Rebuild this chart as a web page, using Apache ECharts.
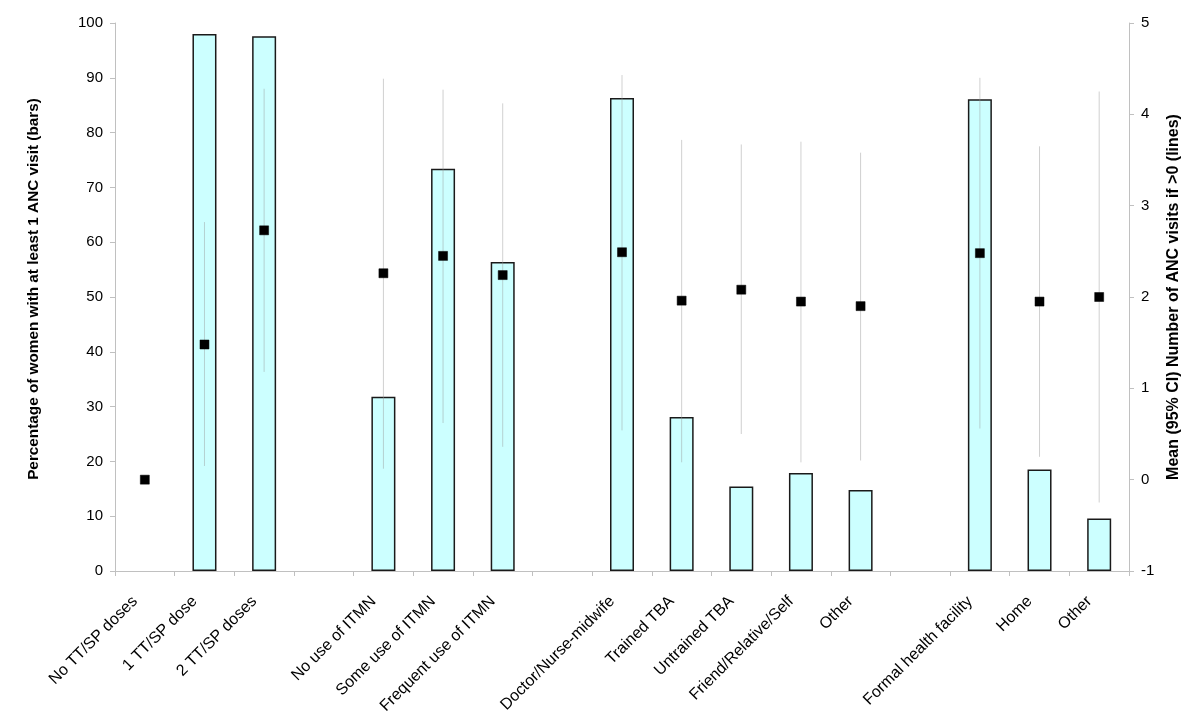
<!DOCTYPE html>
<html>
<head>
<meta charset="utf-8">
<script src="https://cdn.jsdelivr.net/npm/echarts@6/dist/echarts.min.js"></script>
<style>
html,body{margin:0;padding:0;background:#fff;}
#chart{width:1200px;height:723px;}
</style>
</head>
<body>
<div id="chart"></div>
<script>
// Categories (empty strings are spacer slots between groups)
var categories = [
  'No TT/SP doses', '1 TT/SP dose', '2 TT/SP doses', '',
  'No use of ITMN', 'Some use of ITMN', 'Frequent use of ITMN', '',
  'Doctor/Nurse-midwife', 'Trained TBA', 'Untrained TBA', 'Friend/Relative/Self', 'Other', '',
  'Formal health facility', 'Home', 'Other'
];
// Percentage of women with at least 1 ANC visit (bars, left axis)
var pctAnc = [null, 98.0, 97.6, null, 31.8, 73.4, 56.4, null, 86.3, 28.1, 15.4, 17.9, 14.8, null, 86.1, 18.5, 9.6];
// Mean number of ANC visits if >0 (markers, right axis)
var meanVisits = [0.0, 1.48, 2.73, null, 2.26, 2.45, 2.24, null, 2.49, 1.96, 2.08, 1.95, 1.90, null, 2.48, 1.95, 2.0];
// 95% CI lower / upper (lines, right axis)
var ciLow = [null, 0.15, 1.18, null, 0.12, 0.62, 0.36, null, 0.54, 0.19, 0.50, 0.19, 0.21, null, 0.56, 0.25, -0.25];
var ciHigh = [null, 2.82, 4.28, null, 4.39, 4.27, 4.12, null, 4.43, 3.72, 3.67, 3.70, 3.58, null, 4.40, 3.65, 4.25];
// Axis ticks
var leftMin = 0, leftMax = 100, leftStep = 10;
var rightMin = -1, rightMax = 5, rightStep = 1;

var ciData = [];
for (var i = 0; i < categories.length; i++) {
  if (ciLow[i] != null && ciHigh[i] != null) ciData.push([i, ciLow[i], ciHigh[i]]);
}

var font = 'Liberation Sans, Arial, sans-serif';
var axisGray = '#c0c0c0';

var chart = echarts.init(document.getElementById('chart'), null, {renderer: 'canvas'});
chart.setOption({
  animation: false,
  backgroundColor: '#ffffff',
  grid: {left: 115, right: 71, top: 23, bottom: 152, containLabel: false},
  xAxis: {
    type: 'category',
    data: categories,
    boundaryGap: true,
    axisLine: {lineStyle: {color: axisGray, width: 1}},
    axisTick: {show: true, length: 5, alignWithLabel: false, interval: 0, lineStyle: {color: axisGray}},
    axisLabel: {interval: 0, rotate: 45, color: '#000', fontFamily: font, fontSize: 16, margin: 18, padding: [0, 14, 0, 0], hideOverlap: false},
    splitLine: {show: false}
  },
  yAxis: [{
    type: 'value',
    min: leftMin, max: leftMax, interval: leftStep,
    position: 'left',
    name: 'Percentage of women with at least 1 ANC visit (bars)',
    nameLocation: 'middle',
    nameRotate: 90,
    nameGap: 74,
    nameTextStyle: {fontFamily: font, fontSize: 15.3, fontWeight: 'bold', color: '#000', padding: [0, 0, 0, 16]},
    axisLine: {show: true, lineStyle: {color: axisGray}},
    axisTick: {show: true, length: 5, lineStyle: {color: axisGray}},
    axisLabel: {color: '#000', fontFamily: font, fontSize: 15, margin: 12},
    splitLine: {show: false}
  }, {
    type: 'value',
    min: rightMin, max: rightMax, interval: rightStep,
    position: 'right',
    name: 'Mean (95% CI) Number of ANC visits if >0 (lines)',
    nameLocation: 'middle',
    nameRotate: 90,
    nameGap: 36,
    nameTextStyle: {fontFamily: font, fontSize: 16, fontWeight: 'bold', color: '#000'},
    axisLine: {show: true, lineStyle: {color: axisGray}},
    axisTick: {show: true, length: 5, lineStyle: {color: axisGray}},
    axisLabel: {color: '#000', fontFamily: font, fontSize: 15, margin: 12},
    splitLine: {show: false}
  }],
  series: [{
    type: 'bar',
    name: 'pct',
    yAxisIndex: 0,
    data: pctAnc,
    barWidth: 24,
    z: 2,
    itemStyle: {color: '#CCFFFF', borderColor: '#1a1a1a', borderWidth: 1.5}
  }, {
    type: 'custom',
    name: 'ci',
    yAxisIndex: 1,
    data: ciData,
    z: 3,
    renderItem: function (params, api) {
      var x = api.value(0);
      var lo = api.coord([x, api.value(1)]);
      var hi = api.coord([x, api.value(2)]);
      return {
        type: 'line',
        shape: {x1: lo[0], y1: lo[1], x2: hi[0], y2: hi[1]},
        style: {stroke: 'rgba(150,150,150,0.45)', lineWidth: 1}
      };
    }
  }, {
    type: 'scatter',
    name: 'mean',
    yAxisIndex: 1,
    data: meanVisits,
    symbol: 'rect',
    symbolSize: 9,
    z: 4,
    itemStyle: {color: '#000', opacity: 1, borderColor: '#000', borderWidth: 0.5}
  }]
});
</script>
</body>
</html>
